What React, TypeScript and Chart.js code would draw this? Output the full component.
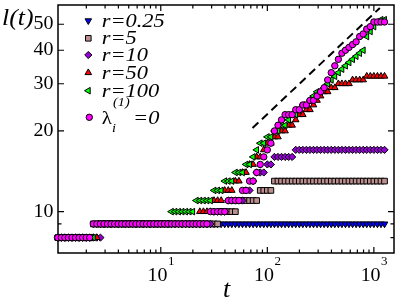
import React, { useEffect, useRef } from 'react';
import { Chart, registerables } from 'chart.js';
Chart.register(...registerables);

// sampling times t (log-spaced)
const T = [
  1.080, 1.166, 1.259, 1.359, 1.468, 1.585, 1.711, 1.848, 1.995, 2.154, 2.326, 2.512, 2.712, 2.929, 3.162,
  3.415, 3.687, 3.981, 4.299, 4.642, 5.012, 5.412, 5.843, 6.310, 6.813, 7.356, 7.943, 8.577, 9.261,
  10.00, 10.80, 11.66, 12.59, 13.59, 14.68, 15.85, 17.11, 18.48, 19.95, 21.54, 23.26, 25.12, 27.12, 29.29,
  31.62, 34.15, 36.87, 39.81, 42.99, 46.42, 50.12, 54.12, 58.43, 63.10, 68.13, 73.56, 79.43, 85.77, 92.61,
  100.0, 108.0, 116.6, 125.9, 135.9, 146.8, 158.5, 171.1, 184.8, 199.5, 215.4, 232.6, 251.2, 271.2, 292.9,
  316.2, 341.5, 368.7, 398.1, 429.9, 464.2, 501.2, 541.2, 584.3, 631.0, 681.3, 735.6, 794.3, 857.7, 926.1,
  1000, 1080, 1166, 1259,
];

// l(t) per series, as levels and how many consecutive samples stay at each level
const BLUE_LEVELS = [8, 9];
const BLUE_RUNS = [10, 83];

const BROWN_LEVELS = [8, 9, 10, 11, 12, 13];
const BROWN_RUNS = [10, 36, 5, 6, 4, 32];

const PURPLE_LEVELS = [8, 9, 10, 11, 12, 13, 14, 15, 16, 17];
const PURPLE_RUNS = [13, 31, 4, 5, 2, 1, 3, 2, 6, 26];

const RED_LEVELS = [8, 9, 10, 11, 12, 13, 14, 15, 16, 17, 18, 19, 20, 21, 22, 23, 24, 25, 26, 27, 28, 29, 30, 31, 32];
const RED_RUNS = [12, 28, 4, 3, 3, 2, 2, 2, 2, 1, 2, 2, 2, 2, 1, 2, 2, 1, 1, 1, 2, 2, 4, 4, 6];

const GREEN_LEVELS = [8, 9, 10, 11, 12, 13, 14, 15, 16, 17, 18, 19, 20, 21, 22, 23, 24, 25, 26, 27, 28, 29,
  30, 31, 32, 33, 34, 35, 36, 37, 38, 39, 40, 45, 47, 49, 51, 52];
const GREEN_RUNS = [11, 21, 7, 5, 3, 3, 3, 2, 1, 1, 2, 2, 2, 2, 1, 2, 1, 2, 1, 1, 2, 1,
  1, 1, 1, 1, 1, 1, 1, 1, 1, 1, 1, 1, 1, 1, 1, 2];

const MAGENTA_LEVELS = [8, 9, 10, 11, 12, 13, 14, 15, 16, 17, 18, 20, 21, 22, 23, 24, 25, 26,
  27, 28, 29, 31, 33, 35, 37, 39, 40, 41, 42, 43, 45, 46, 48, 49, 51];
const MAGENTA_RUNS = [10, 33, 5, 4, 2, 2, 1, 1, 1, 1, 1, 1, 1, 1, 3, 2, 2, 2,
  1, 1, 1, 1, 1, 1, 1, 1, 1, 1, 1, 1, 1, 1, 1, 1, 4];

// dashed guide line
const GUIDE_T = [72.6, 1137];
const GUIDE_L = [20.5, 57.5];

const LEGEND = ['r=0.25', 'r=5', 'r=10', 'r=50', 'r=100'];
const Y_LABELS = [10, 20, 30, 40, 50];
const Y_MINOR = [8, 9];
const X_MAJOR = [10, 100, 1000];
const X_EXP = ['1', '2', '3'];

function expand(levels: number[], runs: number[]) {
  const out: number[] = [];
  levels.forEach((l, i) => {
    for (let j = 0; j < runs[i]; j++) out.push(l);
  });
  return out.slice(0, T.length).map((l, i) => ({ x: T[i], y: l }));
}

function drawMarker(ctx: CanvasRenderingContext2D, kind: string, x: number, y: number, fill: string) {
  ctx.save();
  ctx.fillStyle = fill;
  ctx.strokeStyle = '#000';
  ctx.lineWidth = 1;
  ctx.beginPath();
  const r = 3.8;
  if (kind === 'down') {
    ctx.moveTo(x - r * 0.87, y - r * 0.5); ctx.lineTo(x + r * 0.87, y - r * 0.5); ctx.lineTo(x, y + r);
  } else if (kind === 'up') {
    ctx.moveTo(x - r * 0.87, y + r * 0.5); ctx.lineTo(x + r * 0.87, y + r * 0.5); ctx.lineTo(x, y - r);
  } else if (kind === 'left') {
    ctx.moveTo(x + r * 0.5, y - r * 0.87); ctx.lineTo(x + r * 0.5, y + r * 0.87); ctx.lineTo(x - r, y);
  } else if (kind === 'rect') {
    ctx.rect(x - 2.8, y - 2.8, 5.6, 5.6);
  } else if (kind === 'diamond') {
    ctx.moveTo(x, y - 3.6); ctx.lineTo(x + 3.6, y); ctx.lineTo(x, y + 3.6); ctx.lineTo(x - 3.6, y);
  } else {
    ctx.arc(x, y, 3.2, 0, Math.PI * 2);
  }
  ctx.closePath();
  ctx.fill();
  ctx.stroke();
  ctx.restore();
}

function txt(ctx: CanvasRenderingContext2D, s: string, x: number, y: number, font: string,
  align: CanvasTextAlign = 'left', sx = 1, base: CanvasTextBaseline = 'alphabetic') {
  ctx.save();
  ctx.font = font;
  ctx.textAlign = align;
  ctx.textBaseline = base;
  ctx.fillStyle = '#000';
  ctx.translate(x, y);
  ctx.scale(sx, 1);
  ctx.fillText(s, 0, 0);
  ctx.restore();
}

const SERIF = '"Liberation Serif", "Times New Roman", serif';

const framePlugin = {
  id: 'frame',
  beforeDatasetsDraw(chart: any) {
    const ctx: CanvasRenderingContext2D = chart.ctx;
    const { left, right, top, bottom } = chart.chartArea;
    const xs = chart.scales.x;
    const ys = chart.scales.y;
    ctx.save();
    ctx.strokeStyle = '#000';
    ctx.lineWidth = 1.5;
    ctx.strokeRect(left, top, right - left, bottom - top);
    ctx.lineWidth = 1.2;
    ctx.beginPath();
    // x ticks
    for (let d = 1; d <= 1000; d *= 10) {
      for (let m = 1; m <= 9; m++) {
        const v = d * m;
        if (v < xs.min || v > xs.max) continue;
        const px = xs.getPixelForValue(v);
        const len = m === 1 ? 6 : 3.5;
        ctx.moveTo(px, bottom); ctx.lineTo(px, bottom - len);
        ctx.moveTo(px, top); ctx.lineTo(px, top + len);
      }
    }
    // y ticks
    Y_LABELS.forEach((v) => {
      const py = ys.getPixelForValue(v);
      ctx.moveTo(left, py); ctx.lineTo(left + 6, py);
      ctx.moveTo(right, py); ctx.lineTo(right - 6, py);
    });
    Y_MINOR.forEach((v) => {
      const py = ys.getPixelForValue(v);
      ctx.moveTo(left, py); ctx.lineTo(left + 3.5, py);
      ctx.moveTo(right, py); ctx.lineTo(right - 3.5, py);
    });
    ctx.stroke();
    ctx.restore();
  },
  afterDraw(chart: any) {
    const ctx: CanvasRenderingContext2D = chart.ctx;
    const xs = chart.scales.x;
    const ys = chart.scales.y;
    // y labels
    Y_LABELS.forEach((v) => {
      txt(ctx, String(v), 53.5, ys.getPixelForValue(v), `19px ${SERIF}`, 'right', 1.05, 'middle');
    });
    // x labels 10^n
    X_MAJOR.forEach((v, i) => {
      const px = xs.getPixelForValue(v);
      ctx.save();
      ctx.font = `19px ${SERIF}`;
      const w1 = ctx.measureText('10').width * 1.05;
      ctx.font = `13px ${SERIF}`;
      const w2 = ctx.measureText(X_EXP[i]).width;
      ctx.restore();
      const x0 = px - (w1 + w2) / 2;
      txt(ctx, '10', x0, 281, `19px ${SERIF}`, 'left', 1.05);
      txt(ctx, X_EXP[i], x0 + w1 + 0.5, 265, `13px ${SERIF}`, 'left', 1);
    });
    // axis titles
    txt(ctx, 'l(t)', 2, 25, `italic 23px ${SERIF}`, 'left', 1.12);
    txt(ctx, 't', 226.5, 297, `italic 26px ${SERIF}`, 'center', 1);
    // legend
    const kinds = ['down', 'rect', 'diamond', 'up', 'left'];
    const colors = ['#0000ff', '#bc8f8f', '#9400d3', '#ff0000', '#00ff00'];
    const rows = [20.7, 38.3, 55, 72.7, 90.7];
    LEGEND.forEach((s, i) => {
      drawMarker(ctx, kinds[i], 88.3, rows[i], colors[i]);
      txt(ctx, s, 101.7, rows[i] + 5.8, `italic 19px ${SERIF}`, 'left', 1.18);
    });
    drawMarker(ctx, 'circle', 89.3, 117.3, '#ff00ff');
    txt(ctx, 'λ', 101.7, 124, `19px ${SERIF}`, 'left', 1.1);
    txt(ctx, 'i', 112, 132, `italic 13px ${SERIF}`, 'left', 1.1);
    txt(ctx, '(1)', 113, 106, `italic 13px ${SERIF}`, 'left', 1.1);
    txt(ctx, '=0', 133, 124, `italic 19px ${SERIF}`, 'left', 1.18);
  },
};

export default function App() {
  const ref = useRef<HTMLCanvasElement>(null);
  useEffect(() => {
    document.body.style.margin = '0';
    const common = { borderColor: '#000', borderWidth: 1, showLine: false, clip: false as any };
    const chart = new Chart(ref.current as HTMLCanvasElement, {
      type: 'scatter',
      data: {
        datasets: [
          { ...common, label: 'λ', data: expand(MAGENTA_LEVELS, MAGENTA_RUNS), backgroundColor: '#ff00ff', pointStyle: 'circle', pointRadius: 3.2, order: 0 },
          { ...common, label: 'r=100', data: expand(GREEN_LEVELS, GREEN_RUNS), backgroundColor: '#00ff00', pointStyle: 'triangle', rotation: -90, pointRadius: 3.8, order: 1 },
          { ...common, label: 'r=50', data: expand(RED_LEVELS, RED_RUNS), backgroundColor: '#ff0000', pointStyle: 'triangle', pointRadius: 3.8, order: 2 },
          { ...common, label: 'r=10', data: expand(PURPLE_LEVELS, PURPLE_RUNS), backgroundColor: '#9400d3', pointStyle: 'rectRot', pointRadius: 3.6, order: 3 },
          { ...common, label: 'r=5', data: expand(BROWN_LEVELS, BROWN_RUNS), backgroundColor: '#bc8f8f', pointStyle: 'rect', pointRadius: 4, order: 4 },
          { ...common, label: 'r=0.25', data: expand(BLUE_LEVELS, BLUE_RUNS), backgroundColor: '#0000ff', pointStyle: 'triangle', rotation: 180, pointRadius: 3.8, order: 5 },
          {
            label: 'guide', data: GUIDE_T.map((t, i) => ({ x: t, y: GUIDE_L[i] })), showLine: true,
            borderColor: '#000', borderWidth: 2, borderDash: [8, 5], pointRadius: 0, order: 6, clip: false as any,
          },
        ] as any,
      },
      options: {
        responsive: false,
        maintainAspectRatio: false,
        animation: false,
        events: [],
        layout: { padding: { left: 58, right: 2, top: 1, bottom: 48 } },
        plugins: { legend: { display: false }, tooltip: { enabled: false } },
        scales: {
          x: { type: 'logarithmic', min: 1.0847, max: 1545, display: false },
          y: { type: 'logarithmic', min: 7.01, max: 59.0, display: false },
        },
      },
      plugins: [framePlugin],
    });
    return () => chart.destroy();
  }, []);
  return (
    <div style={{ position: 'absolute', left: 0, top: 0, width: 399, height: 301, background: '#fff' }}>
      <canvas ref={ref} width={399} height={301} style={{ display: 'block' }} />
    </div>
  );
}
